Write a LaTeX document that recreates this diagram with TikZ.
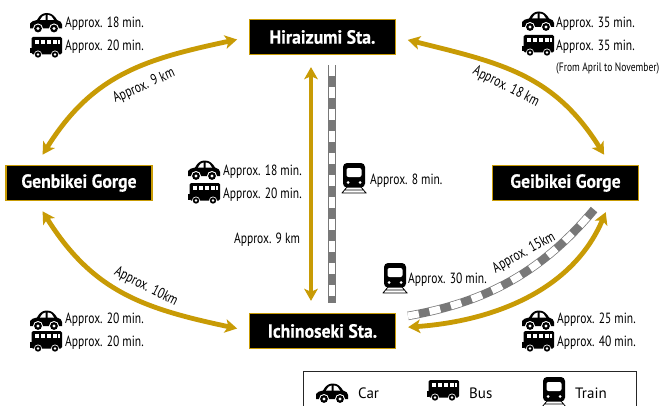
\documentclass[tikz,border=0pt]{standalone}
\usepackage{fontspec}
\setmainfont[FakeStretch=0.78]{PT Sans}
\usetikzlibrary{arrows.meta,positioning,calc}
\definecolor{roadgold}{RGB}{200,155,5}
\definecolor{trackgray}{RGB}{120,120,120}
\tikzset{
    station/.style={draw=roadgold, line width=1.3pt, fill=black, text=white, font=\bfseries\addfontfeature{FakeStretch=0.93,FakeBold=0.5}\fontsize{19}{21}\selectfont,
        minimum width=146pt, minimum height=35pt, inner sep=0pt},
    road/.style={draw=roadgold, line width=4.8pt, {Stealth[length=12pt,width=13.5pt,inset=3pt]}-{Stealth[length=12pt,width=13.5pt,inset=3pt]},
        shorten >=12pt, shorten <=12pt},
    time/.style={anchor=west, inner sep=0pt, font=\fontsize{14.8}{16}\selectfont},
    dist/.style={inner sep=0pt, font=\fontsize{14.8}{16}\selectfont},
    legend/.style={anchor=west, inner sep=0pt, font=\addfontfeature{FakeStretch=1.0}\fontsize{15}{17}\selectfont},
    caricon/.pic={
        \fill[black] (-16,-6) -- (-16,-1) .. controls (-15,1) and (-12,2) .. (-9,2.5)
            .. controls (-6,8) and (-3,9.5) .. (1,9.5) .. controls (6,9.5) and (9,6) .. (11,2.5)
            .. controls (14,2) and (16,0) .. (16,-2) -- (16,-6) -- cycle;
        \fill[white] (-6,2.5) .. controls (-4,6) and (-2.5,7.5) .. (-0.5,7.5) -- (-0.5,2.5) -- cycle;
        \fill[white] (1.5,7.5) .. controls (5,7.5) and (7,5) .. (8,2.5) -- (1.5,2.5) -- cycle;
        \foreach \wheelx in {-8,8} {
            \fill[white] (\wheelx,-6) circle (5);
            \fill[black] (\wheelx,-6) circle (3.9);
            \fill[white] (\wheelx,-6) circle (1.6);
        }
    },
    busicon/.pic={
        \fill[black, rounded corners=1.5pt] (-14.5,-7.5) rectangle (16,10);
        \fill[black] (-16,-6.5) rectangle (-14,-1);
        \foreach \winx in {-11.5,-5.5,0.5,6.5} {
            \fill[white] (\winx,3) rectangle ++(4.5,4);
        }
        \fill[white] (11.5,3) rectangle (14,7);
        \foreach \wheelx in {-8,9} {
            \fill[white] (\wheelx,-7.5) circle (4);
            \fill[black] (\wheelx,-7.5) circle (3.2);
            \fill[white] (\wheelx,-7.5) circle (1.3);
        }
    },
    trainicon/.pic={
        \fill[black, rounded corners=4pt] (-11,-9.5) rectangle (11,15);
        \fill[white, rounded corners=2pt] (-7.5,1) rectangle (7.5,10);
        \fill[white] (-6,-4.5) circle (1.5);
        \fill[white] (6,-4.5) circle (1.5);
        \draw[black, line width=0.8pt] (-7,-9) -- (-12,-15) (7,-9) -- (12,-15) (-12.5,-15) -- (12.5,-15) (-10,-12) -- (10,-12);
    }
}
\begin{document}
\begin{tikzpicture}[x=1pt,y=1pt]
    \useasboundingbox (0,0) rectangle (669,405);
    \fill[white] (0,0) rectangle (669,405);

    \node[station] (hiraizumi) at (322.5,368) {Hiraizumi Sta.};
    \node[station] (genbikei) at (79,222) {Genbikei Gorge};
    \node[station] (geibikei) at (565.5,222) {Geibikei Gorge};
    \node[station] (ichinoseki) at (322.5,74) {Ichinoseki Sta.};

    % tracks
    \draw[trackgray, line width=8.5pt, shorten >=10pt, shorten <=10pt] ([xshift=9.5pt]hiraizumi.south) -- ([xshift=9.5pt]ichinoseki.north);
    \draw[white, line width=6pt, shorten >=10pt, shorten <=10pt, dash pattern=on 11pt off 11pt] ([xshift=9.5pt]hiraizumi.south) -- ([xshift=9.5pt]ichinoseki.north);
    \draw[trackgray, line width=8.5pt, shorten >=11pt, shorten <=12pt] ([yshift=13pt]ichinoseki.east) to[out=10,in=230] (geibikei.-27);
    \draw[white, line width=7pt, shorten >=11pt, shorten <=12pt, dash pattern=on 11pt off 11pt] ([yshift=13pt]ichinoseki.east) to[out=10,in=230] (geibikei.-27);

    % roads
    \draw[road] (hiraizumi.west) to[out=192,in=58,looseness=1.1] (genbikei.157);
    \draw[road] (hiraizumi.east) to[out=-14,in=122,looseness=1.1] (geibikei.22);
    \draw[road] (ichinoseki.west) to[out=168,in=-58,looseness=1.1] (genbikei.-157);
    \draw[road] ([yshift=3pt]ichinoseki.east) to[out=4,in=247] (geibikei.-22);
    \draw[road] ([xshift=-11.5pt]hiraizumi.south) -- ([xshift=-11.5pt]ichinoseki.north);

    % times
    \pic at (46,382.5) {caricon};
    \pic at (46,358) {busicon};
    \node[time] (carA) at (65,381) {Approx. 18 min.};
    \node[time] (busA) at (65,358) {Approx. 20 min.};

    \pic at (538,384) {caricon};
    \pic at (538,360) {busicon};
    \node[time] (carB) at (556,381) {Approx. 35 min.};
    \node[time] (busB) at (556,358) {Approx. 35 min.};
    \node[time, font=\fontsize{12.2}{14}\selectfont] (busNote) at (556,337) {(From April to November)};

    \pic at (204,235) {caricon};
    \pic at (204,212) {busicon};
    \node[time] (carC) at (223,233) {Approx. 18 min.};
    \node[time] (busC) at (223,210) {Approx. 20 min.};

    \pic at (354,227) {trainicon};
    \node[time] (trainC) at (370,224) {Approx. 8 min.};

    \pic at (46,85) {caricon};
    \pic at (46,64) {busicon};
    \node[time] (carD) at (65,85) {Approx. 20 min.};
    \node[time] (busD) at (65,62) {Approx. 20 min.};

    \pic at (538,85) {caricon};
    \pic at (538,64) {busicon};
    \node[time] (carE) at (557,85) {Approx. 25 min.};
    \node[time] (busE) at (557,62) {Approx. 40 min.};

    \pic at (395,127) {trainicon};
    \node[time] (trainE) at (408,125) {Approx. 30 min.};

    % distances
    \node[dist, rotate=24] (distA) at (144,319) {Approx. 9 km};
    \node[dist, rotate=-27] (distB) at (506,318) {Approx. 18 km};
    \node[dist, rotate=-27] (distC) at (146,118) {Approx. 10km};
    \node[dist, rotate=29] (distD) at (524,152) {Approx. 15km};
    \node[dist] (distE) at (267,165) {Approx. 9 km};

    % legend
    \draw[black!85, line width=0.9pt] (303.5,-5) rectangle (636.5,34);
    \pic at (332,12) {caricon};
    \node[legend] (legCar) at (358,12) {Car};
    \pic at (443,15) {busicon};
    \node[legend] (legBus) at (469,12) {Bus};
    \pic at (554,13) {trainicon};
    \node[legend] (legTrain) at (575,12) {Train};
\end{tikzpicture}
\end{document}
